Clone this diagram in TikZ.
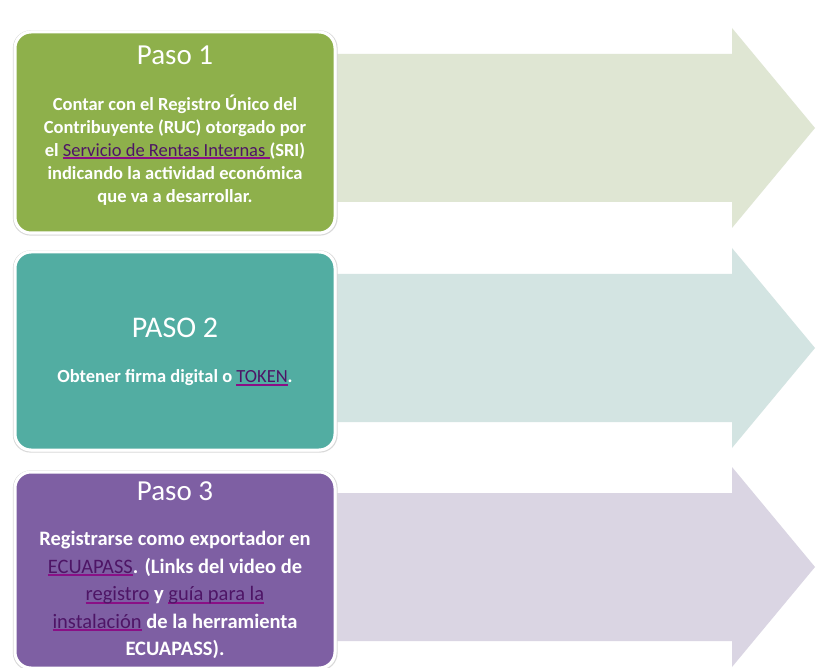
\documentclass[tikz,border=0pt]{standalone}
\usepackage{fontspec}
\setmainfont{Carlito}
\usetikzlibrary{calc}
\definecolor{boxgreen}{HTML}{8EB04B}
\definecolor{boxteal}{HTML}{52ADA2}
\definecolor{boxpurple}{HTML}{7E5FA3}
\definecolor{arrgreen}{HTML}{DFE6D3}
\definecolor{arrteal}{HTML}{D3E4E2}
\definecolor{arrpurple}{HTML}{DAD5E3}
\definecolor{lnktext}{HTML}{4E1566}
\definecolor{lnkline}{HTML}{8A0F86}
\newcommand\lnk[1]{\begingroup\setbox0\hbox{\mdseries#1}\rlap{\color{lnkline}\rule[-3pt]{\wd0}{2pt}}\textcolor{lnktext}{\box0}\endgroup}
\begin{document}
\begin{tikzpicture}[x=1pt,y=-1pt,
  stepbox/.style={draw=white,line width=3pt,rounded corners=16pt},
  shadowbox/.style={draw=black!15,line width=1.2pt,rounded corners=17pt},
  titletext/.style={text=white,font=\fontsize{29}{33}\selectfont,inner sep=0pt},
  bodytext/.style={text=white,align=center,inner sep=0pt,font=\bfseries\fontsize{18.5}{23}\selectfont}]
\useasboundingbox (0,0) rectangle (830,668);
\fill[white] (0,0) rectangle (830,668);
% arrows
\foreach \c/\col in {128/arrgreen,348/arrteal,567/arrpurple}{
  \fill[\col] (337,\c-74) -- (732,\c-74) -- (732,\c-100) -- (815,\c) -- (732,\c+100) -- (732,\c+74) -- (337,\c+74) -- cycle;
}
% boxes
\draw[shadowbox] (13.5,31) rectangle (337,235);
\draw[stepbox,fill=boxgreen] (15,32) rectangle (335,233);
\draw[shadowbox] (13.5,251) rectangle (337,452);
\draw[stepbox,fill=boxteal] (15,252) rectangle (335,450);
\draw[shadowbox] (13.5,471) rectangle (337,670);
\draw[stepbox,fill=boxpurple] (15,472) rectangle (335,668);
% texts
\node[titletext] (t1) at (175,55) {Paso 1};
\node[bodytext] (d1) at (175,150) {Contar con el Registro Único del\\Contribuyente (RUC) otorgado por\\el \lnk{Servicio de Rentas Internas }(SRI)\\indicando la actividad económica\\que va a desarrollar.};
\node[titletext,font=\fontsize{30}{34}\selectfont] (t2) at (175,328) {PASO 2};
\node[bodytext] (d2) at (175,378) {Obtener firma digital o \lnk{TOKEN}.};
\node[titletext] (t3) at (175,491) {Paso 3};
\node[bodytext,font=\bfseries\fontsize{20.5}{27.5}\selectfont] (d3) at (175,595) {Registrarse como exportador en\\\lnk{ECUAPASS}. (Links del video de\\\lnk{registro} y \lnk{guía para la}\\\lnk{instalación} de la herramienta\\ECUAPASS).};
\end{tikzpicture}
\end{document}
